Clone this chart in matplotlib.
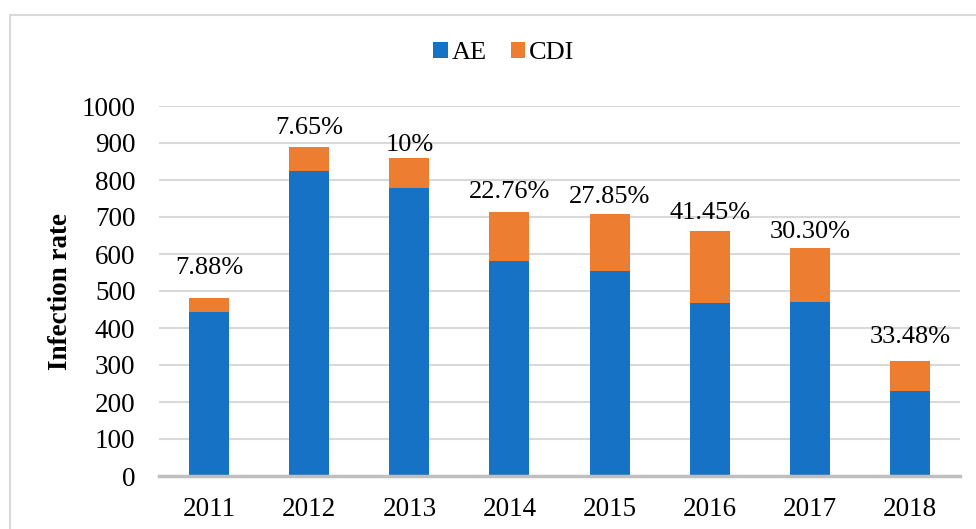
# Stacked bars: AE and CDI infection counts per year, with CDI share on top

import numpy as np
import matplotlib.pyplot as plt
from matplotlib.patches import Rectangle

plt.rcParams['font.family'] = ['Liberation Serif', 'DejaVu Serif']

# data
years = ['2011', '2012', '2013', '2014', '2015', '2016', '2017', '2018']
ae = [443, 823, 779, 580, 553, 467, 471, 230]
cdi = [38, 67, 81, 133, 155, 196, 145, 81]
pct_labels = ['7.88%', '7.65%', '10%', '22.76%', '27.85%', '41.45%', '30.30%', '33.48%']

# label gaps above each bar (pixels), placed by hand in the original
label_gap = [30, 19, 13, 20, 17, 18, 16, 24]

blue = '#1672C4'
orange = '#ED7D31'

fig = plt.figure(figsize=(9.76, 5.29), dpi=100)
ax = fig.add_axes([159/976, 1-476/529, 801/976, 370/529])

x = np.arange(len(years))
ae = np.array(ae)
cdi = np.array(cdi)
ax.bar(x, ae, width=0.4, color=blue, label='AE', zorder=3)
ax.bar(x, cdi, width=0.4, bottom=ae, color=orange, label='CDI', zorder=3)

for i in range(len(years)):
    ax.annotate(pct_labels[i], (x[i], ae[i]+cdi[i]), xytext=(0, label_gap[i]*0.72),
                textcoords='offset points', ha='center', va='center', fontsize=19)

ax.set_xlim(-0.5, len(years)-0.5)
ax.set_ylim(0, 1000)
ax.set_yticks(np.arange(0, 1001, 100))
ax.set_xticks(x)
ax.set_xticklabels(years)
ax.tick_params(axis='both', length=0, labelsize=19.5)
ax.tick_params(axis='x', pad=15)
ax.tick_params(axis='y', pad=17)
ax.yaxis.grid(True, color='#D9D9D9', lw=1.5, zorder=0)
for s in ['top', 'right', 'left']:
    ax.spines[s].set_visible(False)
ax.spines['bottom'].set_color('#BFBFBF')
ax.spines['bottom'].set_linewidth(2.5)
ax.spines['bottom'].set_zorder(4)

ax.set_ylabel('Infection rate', fontsize=19.5, fontweight='bold')
ax.yaxis.set_label_coords(-(159-73)/801, 0.5)

ax.legend(loc='center', bbox_to_anchor=(504/976, 1-53/529), bbox_transform=fig.transFigure,
          ncol=2, frameon=False, fontsize=19, handlelength=0.55, handleheight=0.55,
          handletextpad=0.15, columnspacing=0.9)

# light frame around the chart, running off the right and bottom edges
fig.patches.append(Rectangle((10, -20), 1000, 529-15+20, transform=None,
                             fill=False, edgecolor='#D9D9D9', lw=1.5))

plt.savefig('out.png', dpi=100)
